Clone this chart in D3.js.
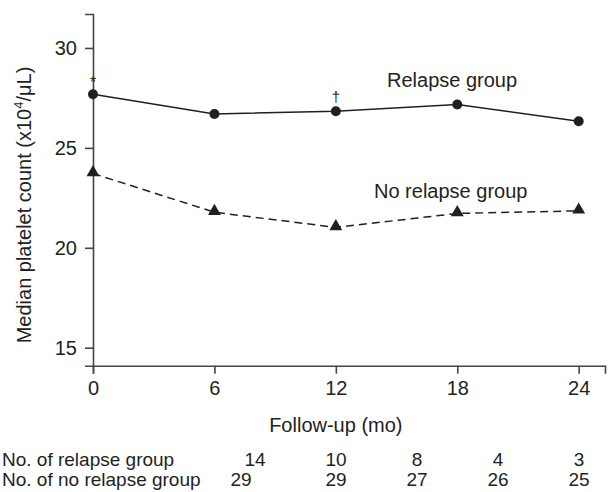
<!DOCTYPE html>
<html>
<head>
<meta charset="utf-8">
<script src="https://cdn.jsdelivr.net/npm/d3@7"></script>
<style>
  body { margin: 0; background: #fff; }
  svg { display: block; font-family: "Liberation Sans", Arial, sans-serif; }
</style>
</head>
<body>
<svg id="chart" width="608" height="492"></svg>
<script>
// ---- data ----
const months = [0, 6, 12, 18, 24];
const relapse = [27.68, 26.7, 26.83, 27.17, 26.33];
const noRelapse = [23.72, 21.78, 21.02, 21.72, 21.85];
const yTicks = [15, 20, 25, 30];
const nRelapse = [14, 10, 8, 4, 3];
const nNoRelapse = [29, 29, 27, 26, 25];
const seriesLabels = ["Relapse group", "No relapse group"];
const rowLabels = ["No. of relapse group", "No. of no relapse group"];

const svg = d3.select("#chart");
const ink = "#231f20";

const x = d3.scaleLinear().domain([0, 25.3]).range([93, 605]);
const y = d3.scaleLinear().domain([14.1, 31.7]).range([365.7, 14]);

// axes
const yAxis = d3.axisLeft(y).tickValues(yTicks).tickSize(8).tickSizeOuter(8).tickPadding(8);
const xAxis = d3.axisBottom(x).tickValues(months).tickSize(8).tickSizeOuter(8).tickPadding(7);

const gy = svg.append("g").attr("transform", `translate(${x(0)},0)`).call(yAxis);
const gx = svg.append("g").attr("transform", `translate(0,${y(14.1)})`).call(xAxis);
[gx, gy].forEach(g => {
  g.selectAll("path,line").attr("stroke", "#444").attr("stroke-width", 1.6);
  g.selectAll("text").attr("fill", ink).attr("font-size", 20);
});

// lines
const line = d3.line().x((d, i) => x(months[i])).y(d => y(d));
svg.append("path").datum(relapse).attr("d", line)
  .attr("fill", "none").attr("stroke", ink).attr("stroke-width", 1.5);
svg.append("path").datum(noRelapse).attr("d", line)
  .attr("fill", "none").attr("stroke", ink).attr("stroke-width", 1.5)
  .attr("stroke-dasharray", "8,5");

// markers
svg.append("g").selectAll("circle").data(relapse).join("circle")
  .attr("cx", (d, i) => x(months[i])).attr("cy", d => y(d)).attr("r", 5).attr("fill", ink);
const tri = d3.symbol().type(d3.symbolTriangle).size(72);
svg.append("g").selectAll("path").data(noRelapse).join("path")
  .attr("d", tri)
  .attr("transform", (d, i) => `translate(${x(months[i])},${y(d) - 1})`)
  .attr("fill", ink);

// significance marks
svg.append("text").attr("x", x(0)).attr("y", y(relapse[0]) - 6)
  .attr("text-anchor", "middle").attr("font-size", 16).attr("fill", ink).text("*");
svg.append("text").attr("x", x(12)).attr("y", y(relapse[2]) - 9)
  .attr("text-anchor", "middle").attr("font-size", 15).attr("fill", ink).text("†");

// series labels
svg.append("text").attr("x", 387).attr("y", 87).attr("font-size", 20).attr("fill", ink).text(seriesLabels[0]);
svg.append("text").attr("x", 374).attr("y", 198).attr("font-size", 20).attr("fill", ink).text(seriesLabels[1]);

// y title
svg.append("text").attr("transform", "translate(31,205) rotate(-90)")
  .attr("text-anchor", "middle").attr("font-size", 20).attr("fill", ink)
  .html('Median platelet count (x10<tspan dy="-8" font-size="13">4</tspan><tspan dy="8">/μL)</tspan>');

// x title
svg.append("text").attr("x", x(12)).attr("y", 432).attr("text-anchor", "middle")
  .attr("font-size", 20).attr("fill", ink).text("Follow-up (mo)");

// at-risk table
const colX = d3.scaleLinear().domain([0, 4]).range([255, 579]);
const rows = [nRelapse, nNoRelapse];
rows.forEach((vals, r) => {
  const yy = 466 + r * 20;
  svg.append("text").attr("x", 2).attr("y", yy).attr("font-size", 19).attr("fill", ink).text(rowLabels[r]);
  svg.append("g").selectAll("text").data(vals).join("text")
    .attr("x", (d, i) => colX(i) - (r === 1 && i === 0 ? 14 : 0))
    .attr("y", yy).attr("text-anchor", "middle").attr("font-size", 19).attr("fill", ink)
    .text(d => d);
});
</script>
</body>
</html>
